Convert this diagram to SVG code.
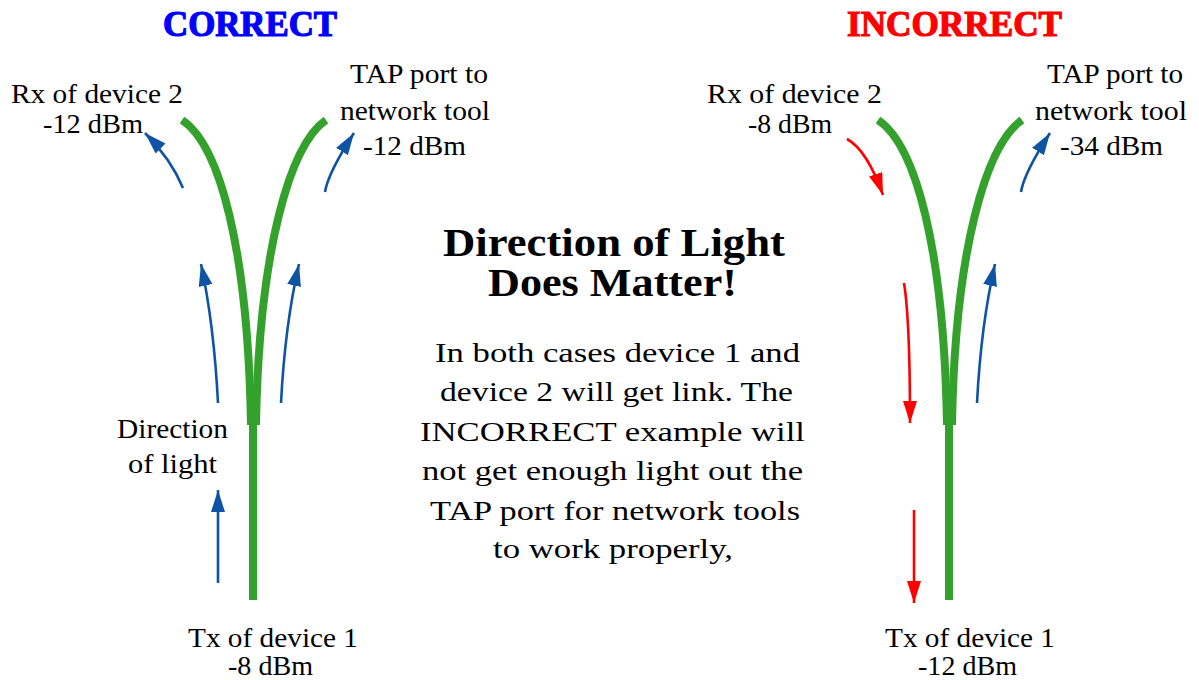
<svg xmlns="http://www.w3.org/2000/svg" width="1199" height="680" viewBox="0 0 1199 680">
<style>
.lbl{font-family:"Liberation Serif","Times New Roman",serif;font-size:28px;fill:#000}
.head{font-family:"Liberation Serif","Times New Roman",serif;font-size:35px;font-weight:bold;stroke-width:1.2}
.title{font-family:"Liberation Serif","Times New Roman",serif;font-size:39px;font-weight:bold;fill:#000}
.fiber{fill:none;stroke:#34a12d;stroke-width:8}
.blue{fill:none;stroke:#0f54a4;stroke-width:2.6;marker-end:url(#ab)}
.red{fill:none;stroke:#ff0000;stroke-width:2.6;marker-end:url(#ar)}
</style>
<defs>
<marker id="ab" markerUnits="userSpaceOnUse" markerWidth="24" markerHeight="16" refX="22" refY="7" orient="auto"><path d="M0,0 L22,7 L0,14 Z" fill="#0f54a4"/></marker>
<marker id="ar" markerUnits="userSpaceOnUse" markerWidth="24" markerHeight="16" refX="22" refY="7" orient="auto"><path d="M0,0 L22,7 L0,14 Z" fill="#ff0000"/></marker>
</defs>
<rect width="1199" height="680" fill="#fff"/>

<g id="correct">
<text class="head" x="163" y="36" textLength="174" lengthAdjust="spacingAndGlyphs" fill="#0000ff" stroke="#0000ff">CORRECT</text>
<path class="fiber" d="M182,120 C220,145 248,250 251,425"/>
<path class="fiber" d="M326,120 C290,145 259,250 256,425"/>
<path class="fiber" d="M253,423 V600"/>
<text class="lbl" x="11" y="103" textLength="172" lengthAdjust="spacingAndGlyphs">Rx of device 2</text>
<text class="lbl" x="43" y="133" textLength="100" lengthAdjust="spacingAndGlyphs">-12 dBm</text>
<text class="lbl" x="350" y="83" textLength="138" lengthAdjust="spacingAndGlyphs">TAP port to</text>
<text class="lbl" x="340" y="120" textLength="150" lengthAdjust="spacingAndGlyphs">network tool</text>
<text class="lbl" x="363" y="155" textLength="103" lengthAdjust="spacingAndGlyphs">-12 dBm</text>
<text class="lbl" x="117" y="438" textLength="111" lengthAdjust="spacingAndGlyphs">Direction</text>
<text class="lbl" x="128" y="473" textLength="89" lengthAdjust="spacingAndGlyphs">of light</text>
<text class="lbl" x="188" y="647" textLength="170" lengthAdjust="spacingAndGlyphs">Tx of device 1</text>
<text class="lbl" x="228" y="675" textLength="85" lengthAdjust="spacingAndGlyphs">-8 dBm</text>
</g>

<g id="incorrect">
<text class="head" x="847" y="36" textLength="215" lengthAdjust="spacingAndGlyphs" fill="#ff0000" stroke="#ff0000">INCORRECT</text>
<path class="fiber" d="M878,120 C916,145 944,250 947,425"/>
<path class="fiber" d="M1022,120 C986,145 955,250 952,425"/>
<path class="fiber" d="M949,423 V600"/>
<text class="lbl" x="707" y="103" textLength="175" lengthAdjust="spacingAndGlyphs">Rx of device 2</text>
<text class="lbl" x="748" y="133" textLength="84" lengthAdjust="spacingAndGlyphs">-8 dBm</text>
<text class="lbl" x="1047" y="83" textLength="136" lengthAdjust="spacingAndGlyphs">TAP port to</text>
<text class="lbl" x="1035" y="120" textLength="152" lengthAdjust="spacingAndGlyphs">network tool</text>
<text class="lbl" x="1060" y="155" textLength="103" lengthAdjust="spacingAndGlyphs">-34 dBm</text>
<text class="lbl" x="885" y="647" textLength="170" lengthAdjust="spacingAndGlyphs">Tx of device 1</text>
<text class="lbl" x="918" y="675" textLength="99" lengthAdjust="spacingAndGlyphs">-12 dBm</text>
</g>

<g id="caption">
<text class="title" x="443" y="256" textLength="342" lengthAdjust="spacingAndGlyphs">Direction of Light</text>
<text class="title" x="488" y="296" textLength="249" lengthAdjust="spacingAndGlyphs">Does Matter!</text>
<text class="lbl" x="435" y="362" textLength="365" lengthAdjust="spacingAndGlyphs">In both cases device 1 and</text>
<text class="lbl" x="440" y="401" textLength="353" lengthAdjust="spacingAndGlyphs">device 2 will get link. The</text>
<text class="lbl" x="420" y="441" textLength="385" lengthAdjust="spacingAndGlyphs">INCORRECT example will</text>
<text class="lbl" x="422" y="480" textLength="381" lengthAdjust="spacingAndGlyphs">not get enough light out the</text>
<text class="lbl" x="430" y="520" textLength="370" lengthAdjust="spacingAndGlyphs">TAP port for network tools</text>
<text class="lbl" x="493" y="558" textLength="240" lengthAdjust="spacingAndGlyphs">to work properly,</text>
</g>

<g id="connectors">
<path class="blue" d="M183,188 Q171,159 145,133"/>
<path class="blue" d="M325,192 Q328,173 354,133"/>
<path class="blue" d="M218,403 Q214,325 201,264"/>
<path class="blue" d="M281,403 Q285,325 299,264"/>
<path class="blue" d="M218,583 V490"/>
<path class="blue" d="M1021,192 Q1024,173 1050,133"/>
<path class="blue" d="M977,403 Q981,325 995,264"/>
<path class="red" d="M847,139 Q867,150 883,195"/>
<path class="red" d="M904,283 Q910,320 910,423"/>
<path class="red" d="M914,510 V603"/>
</g>
</svg>
